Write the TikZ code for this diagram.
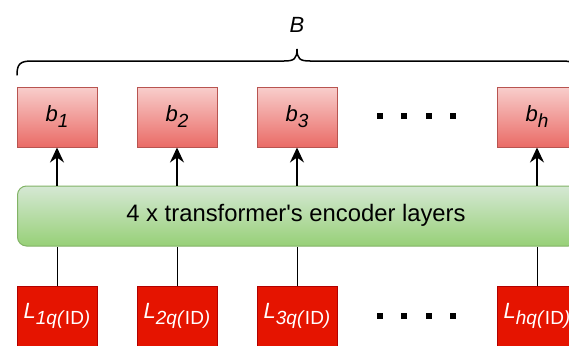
\documentclass[tikz,border=0pt]{standalone}
\usepackage{fontspec}
\setmainfont{Liberation Sans}
\usetikzlibrary{arrows.meta}
\definecolor{outtop}{HTML}{F8CECC}
\definecolor{outbot}{HTML}{EA6B66}
\definecolor{outline}{HTML}{B85450}
\definecolor{enctop}{HTML}{D5E8D4}
\definecolor{encbot}{HTML}{97D077}
\definecolor{encline}{HTML}{82B366}
\definecolor{infill}{HTML}{E51400}
\definecolor{inline}{HTML}{B20000}
\tikzset{
  outbox/.style={draw=outline, line width=1pt, top color=outtop, bottom color=outbot,
    minimum width=80pt, minimum height=60pt, inner sep=0pt,
    font=\fontsize{22}{24}\selectfont},
  inbox/.style={draw=inline, line width=1pt, fill=infill, text=white,
    minimum width=80pt, minimum height=60pt, inner sep=0pt,
    font=\fontsize{22}{24}\selectfont},
  encbox/.style={draw=encline, line width=1pt, top color=enctop, bottom color=encbot,
    rounded corners=9pt, minimum width=560pt, minimum height=60pt, inner sep=0pt},
  uparrow/.style={line width=1.4pt, -{Stealth[length=15pt,width=14pt,inset=5pt]}},
  feed/.style={line width=1pt},
  dotmark/.style={fill=black, minimum size=5.5pt, inner sep=0pt}
}
% lowered, smaller index text
\newcommand{\idx}[1]{\raisebox{-6pt}{\fontsize{19}{21}\selectfont #1}}
\newcommand{\bsym}[1]{\textit{b}\idx{\textit{#1}}}
\newcommand{\Lsym}[1]{\textit{L}\idx{\textit{#1q(}ID\textit{)}}}
\begin{document}
\begin{tikzpicture}[x=1pt,y=-1pt]
\useasboundingbox (0,0) rectangle (569,345);
\clip (0,0) rectangle (569,345);

% output boxes
\node[outbox] (b1) at (57,117) {\bsym{1}};
\node[outbox] (b2) at (177,117) {\bsym{2}};
\node[outbox] (b3) at (297,117) {\bsym{3}};
\node[outbox] (bh) at (537,117) {\bsym{h}};

% encoder block
\node[encbox, anchor=west] (enc) at (17,216) {};
\node[font=\fontsize{23.8}{26}\selectfont] (enclabel) at (296,215) {4 x transformer\textquotesingle s encoder layers};

% input boxes
\node[inbox] (l1) at (57,316) {\Lsym{1}};
\node[inbox] (l2) at (177,316) {\Lsym{2}};
\node[inbox] (l3) at (297,316) {\Lsym{3}};
\node[inbox] (lh) at (537,316) {\Lsym{h}};

% ellipses between columns
\foreach \x [count=\i] in {380,404,429,453}{
  \node[dotmark] (td\i) at (\x,116) {};
  \node[dotmark] (bd\i) at (\x,316) {};
}

% connectors
\foreach \n in {1,2,3,h}{
  \draw[uparrow] (enc.north -| b\n) -- (b\n.south);
  \draw[feed] (l\n.north) -- (enc.south -| l\n);
}

% brace over the outputs
\draw[line width=1.5pt, line cap=round]
  (17,75) .. controls (17,64) and (20,61) .. (32,61) -- (284,61)
  .. controls (294,61) and (297,59) .. (297,49)
  .. controls (297,59) and (300,61) .. (310,61) -- (562,61)
  .. controls (574,61) and (577,64) .. (577,75);
\node[font=\fontsize{22}{24}\selectfont\itshape] (Blabel) at (297,25) {B};
\end{tikzpicture}
\end{document}
